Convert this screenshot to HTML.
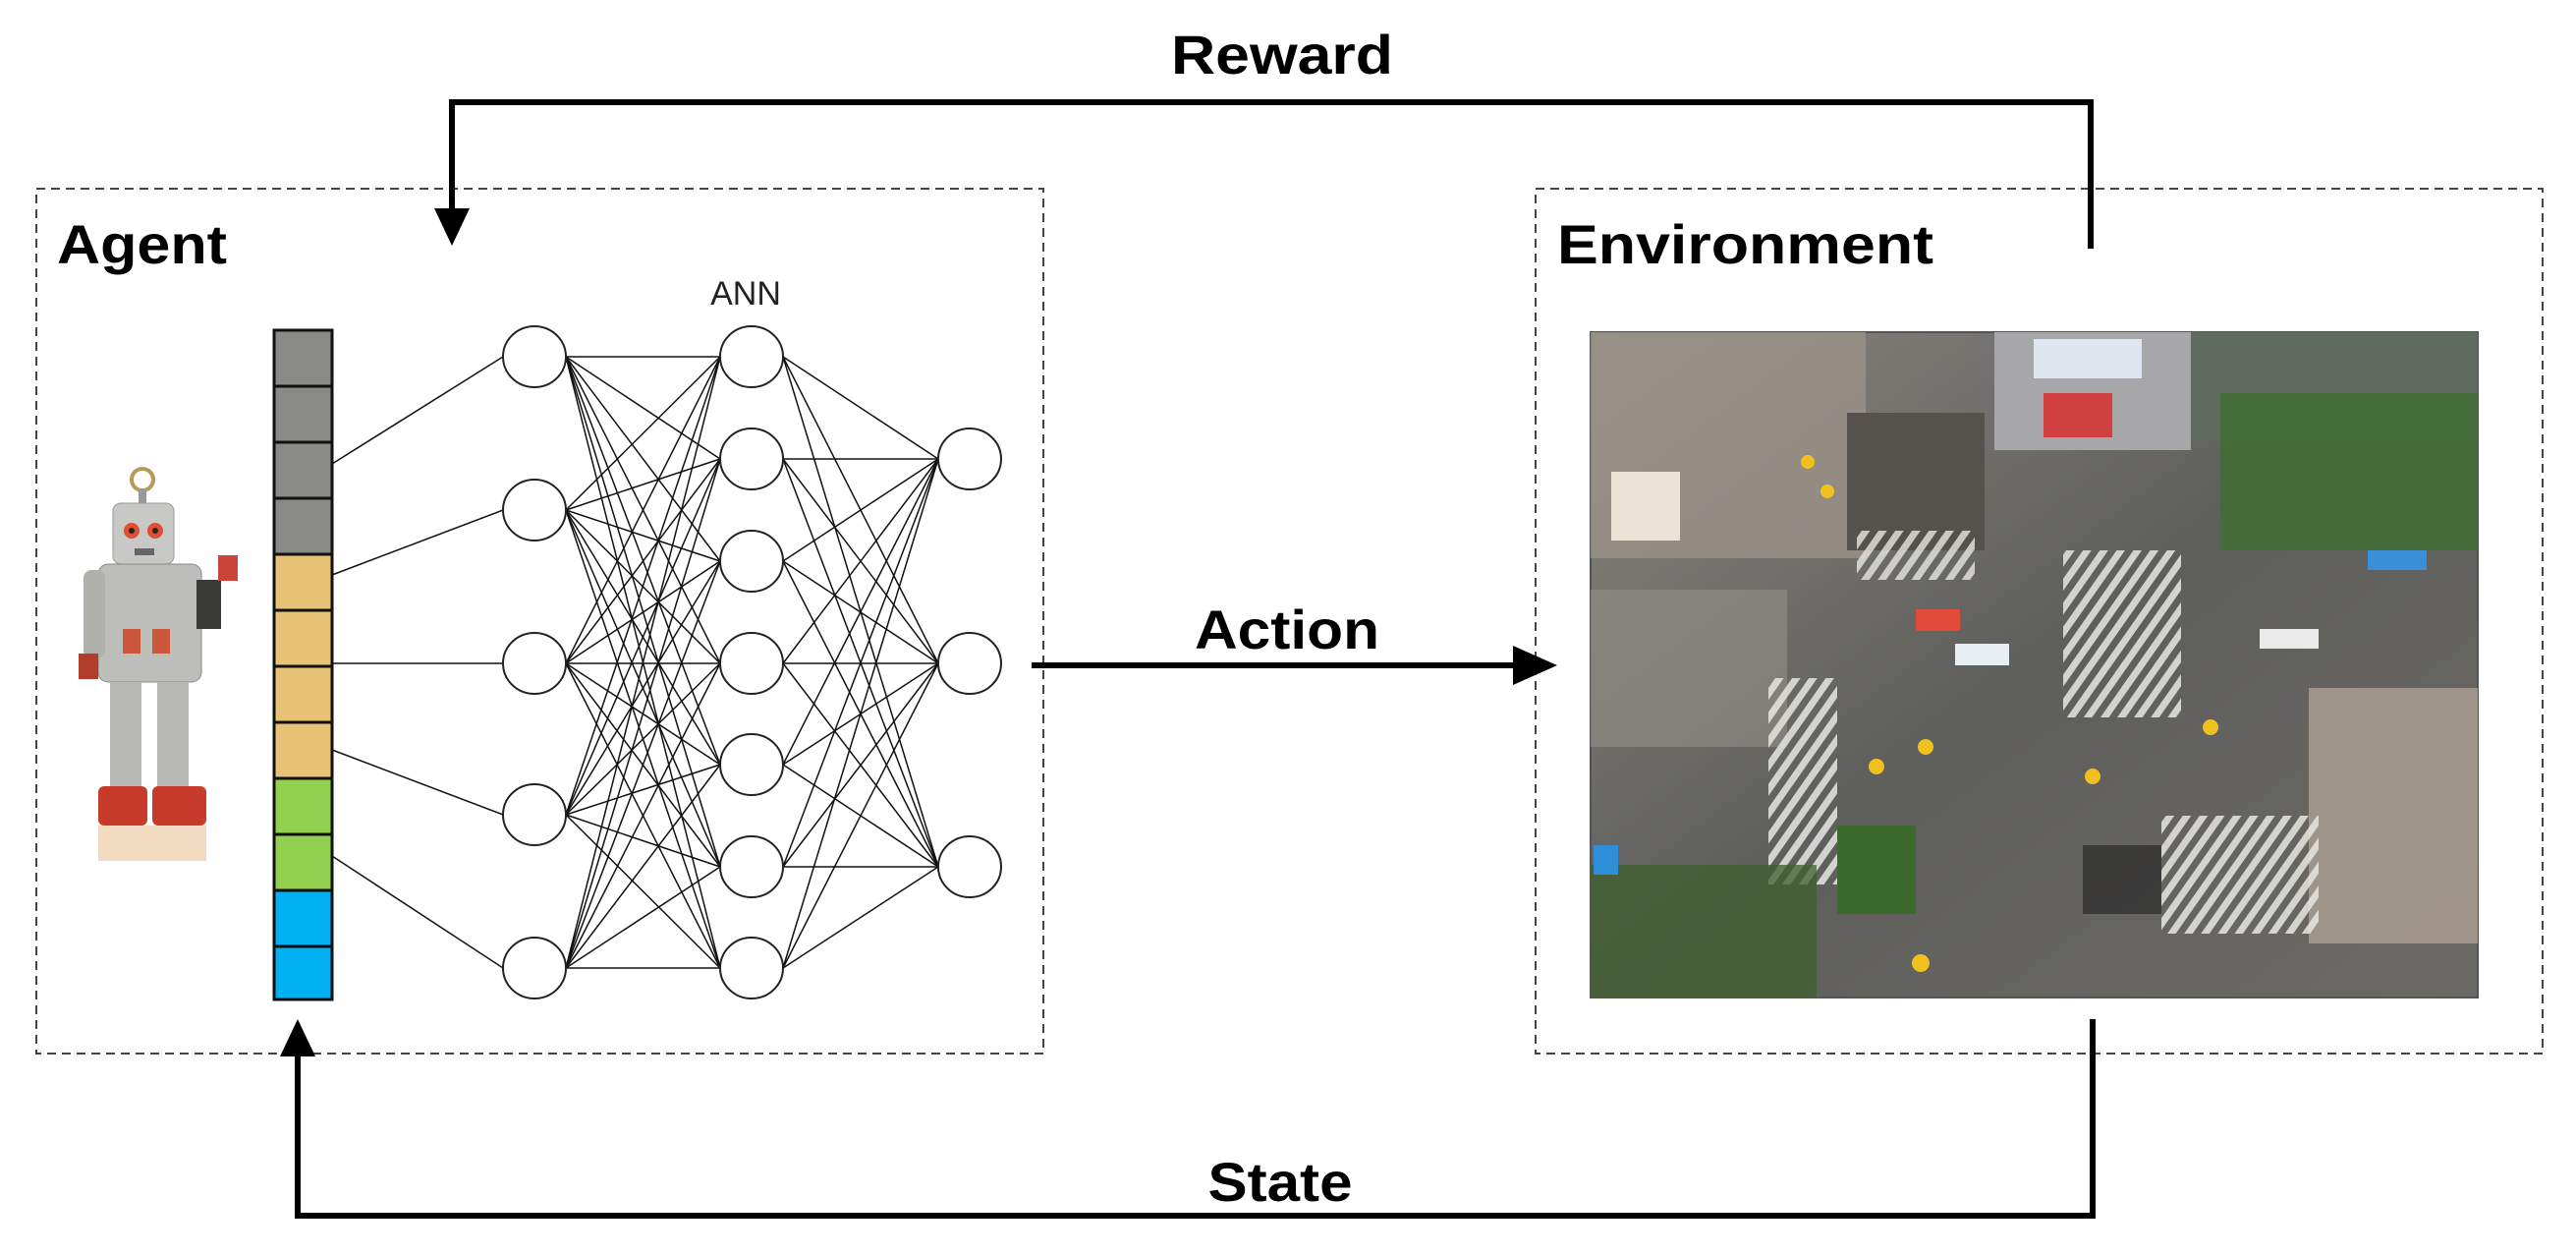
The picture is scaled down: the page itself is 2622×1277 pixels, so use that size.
<!DOCTYPE html>
<html><head><meta charset="utf-8"><style>html,body{margin:0;padding:0;background:#fff}svg{display:block}</style></head>
<body>
<svg xmlns="http://www.w3.org/2000/svg" width="2622" height="1277" viewBox="0 0 2622 1277">
<defs>
<linearGradient id="rd" x1="0" y1="0" x2="1" y2="1"><stop offset="0" stop-color="#8a8680"/><stop offset="0.5" stop-color="#5e5e5c"/><stop offset="1" stop-color="#6c6a66"/></linearGradient>
<pattern id="cw" width="14" height="14" patternUnits="userSpaceOnUse" patternTransform="rotate(35)"><rect width="7" height="14" fill="#e6e6e2"/></pattern>
</defs>
<g font-family="'Liberation Sans',sans-serif">
<!-- boxes -->
<rect x="37" y="192" width="1025" height="880" fill="none" stroke="#444" stroke-width="2" stroke-dasharray="9,6"/>
<rect x="1563" y="192" width="1025" height="880" fill="none" stroke="#444" stroke-width="2" stroke-dasharray="9,6"/>
<text x="58" y="268" font-size="56" font-weight="bold" textLength="173" lengthAdjust="spacingAndGlyphs">Agent</text>
<text x="1585" y="268" font-size="56" font-weight="bold" textLength="383" lengthAdjust="spacingAndGlyphs">Environment</text>
<text x="759" y="310" font-size="34" text-anchor="middle" fill="#222">ANN</text>
<!-- arrows -->
<g stroke="#000" stroke-width="6" fill="none">
<polyline points="2128,253 2128,104 460,104 460,215"/>
<polyline points="2130,1037 2130,1237 303,1237 303,1072"/>
<line x1="1050" y1="677" x2="1545" y2="677"/>
</g>
<polygon points="442,212 478,212 460,250" fill="#000"/>
<polygon points="285,1075 321,1075 303,1037" fill="#000"/>
<polygon points="1540,657 1540,697 1585,677" fill="#000"/>
<text x="1305" y="75" font-size="56" font-weight="bold" text-anchor="middle" textLength="226" lengthAdjust="spacingAndGlyphs">Reward</text>
<text x="1310" y="660" font-size="56" font-weight="bold" text-anchor="middle" textLength="188" lengthAdjust="spacingAndGlyphs">Action</text>
<text x="1303" y="1222" font-size="56" font-weight="bold" text-anchor="middle" textLength="147" lengthAdjust="spacingAndGlyphs">State</text>
<!-- bar -->
<g stroke="#111" stroke-width="3">
<rect x="279" y="336" width="59" height="57" fill="#898987"/>
<rect x="279" y="393" width="59" height="57" fill="#898987"/>
<rect x="279" y="450" width="59" height="57" fill="#898987"/>
<rect x="279" y="507" width="59" height="57" fill="#898987"/>
<rect x="279" y="564" width="59" height="57" fill="#e8c275"/>
<rect x="279" y="621" width="59" height="57" fill="#e8c275"/>
<rect x="279" y="678" width="59" height="57" fill="#e8c275"/>
<rect x="279" y="735" width="59" height="57" fill="#e8c275"/>
<rect x="279" y="792" width="59" height="57" fill="#92d050"/>
<rect x="279" y="849" width="59" height="57" fill="#92d050"/>
<rect x="279" y="906" width="59" height="57" fill="#00b0f0"/>
<rect x="279" y="963" width="59" height="54" fill="#00b0f0"/>
</g>
<!-- network lines -->
<g stroke="#111" stroke-width="1.5" id="net"></g>
<g id="nodes" fill="#fff" stroke="#222" stroke-width="2"></g>
<!-- robot -->
<g>
<circle cx="145" cy="488" r="11" fill="none" stroke="#b59a5a" stroke-width="4"/>
<rect x="141" y="498" width="8" height="18" fill="#999"/>
<rect x="115" y="512" width="62" height="62" rx="8" fill="#c8c8c6" stroke="#999"/>
<circle cx="134" cy="540" r="8" fill="#e05030"/><circle cx="158" cy="540" r="8" fill="#e05030"/>
<circle cx="134" cy="540" r="3" fill="#222"/><circle cx="158" cy="540" r="3" fill="#222"/>
<rect x="137" y="558" width="20" height="7" fill="#666"/>
<rect x="100" y="574" width="105" height="120" rx="10" fill="#bdbdba" stroke="#8a8a88"/>
<rect x="125" y="640" width="18" height="25" fill="#c9553a"/><rect x="155" y="640" width="18" height="25" fill="#c9553a"/>
<rect x="85" y="580" width="22" height="90" rx="8" fill="#b0b0ad"/>
<rect x="80" y="665" width="20" height="26" fill="#b13c2a"/>
<rect x="200" y="590" width="25" height="50" fill="#3a3a38"/>
<rect x="222" y="565" width="20" height="26" fill="#c9453a"/>
<rect x="112" y="694" width="32" height="110" fill="#b8b8b5"/><rect x="160" y="694" width="32" height="110" fill="#b8b8b5"/>
<rect x="100" y="800" width="50" height="40" rx="6" fill="#c83b2a"/><rect x="155" y="800" width="55" height="40" rx="6" fill="#c83b2a"/>
<rect x="100" y="840" width="110" height="36" fill="#e8c49a" opacity="0.6"/>
</g>
<!-- environment photo -->
<g>
<rect x="1619" y="338" width="903" height="677" fill="url(#rd)" stroke="#555" stroke-width="2"/>
<rect x="1619" y="338" width="280" height="230" fill="#9a9288" opacity="0.8"/>
<rect x="2030" y="338" width="200" height="120" fill="#a7a6a8"/>
<rect x="2070" y="345" width="110" height="40" fill="#dfe6ef"/>
<rect x="2080" y="400" width="70" height="45" fill="#d04040"/>
<rect x="2230" y="338" width="292" height="110" fill="#5f6a60"/>
<rect x="2260" y="400" width="262" height="160" fill="#3f6d33" opacity="0.85"/>
<rect x="1640" y="480" width="70" height="70" fill="#e9e4d6"/>
<rect x="2350" y="700" width="172" height="260" fill="#a99c90" opacity="0.85"/>
<rect x="1619" y="600" width="200" height="160" fill="#8f8a84" opacity="0.7"/>
<rect x="1880" y="420" width="140" height="140" fill="#55524e"/>
<rect x="1800" y="690" width="70" height="210" fill="url(#cw)" opacity="0.85"/>
<rect x="2100" y="560" width="120" height="170" fill="url(#cw)" opacity="0.85"/>
<rect x="2200" y="830" width="160" height="120" fill="url(#cw)" opacity="0.85"/>
<rect x="1890" y="540" width="120" height="50" fill="url(#cw)" opacity="0.8"/>
<rect x="1619" y="880" width="230" height="135" fill="#3f5f2e" opacity="0.75"/>
<rect x="1870" y="840" width="80" height="90" fill="#3b6a2c"/>
<rect x="2120" y="860" width="80" height="70" fill="#2a2a2a" opacity="0.7"/>
<rect x="1950" y="620" width="45" height="22" fill="#e24a3c"/><rect x="1990" y="655" width="55" height="22" fill="#e8eef2"/>
<rect x="2300" y="640" width="60" height="20" fill="#eaeaea"/><rect x="2410" y="560" width="60" height="20" fill="#3a8fd8"/>
<rect x="1622" y="860" width="25" height="30" fill="#2f8ed8"/>
<circle cx="1960" cy="760" r="8" fill="#f0c020"/><circle cx="2130" cy="790" r="8" fill="#f0c020"/><circle cx="1910" cy="780" r="8" fill="#f0c020"/><circle cx="2250" cy="740" r="8" fill="#f0c020"/><circle cx="1840" cy="470" r="7" fill="#f0c020"/><circle cx="1860" cy="500" r="7" fill="#f0c020"/><circle cx="1955" cy="980" r="9" fill="#f0c020"/>
</g>
</g>
<script>
(function(){
var ns="http://www.w3.org/2000/svg";
var net=document.getElementById("net"),nodes=document.getElementById("nodes");
var L1=[363,519,675,829,985],L2=[363,467,571,675,778,882,985],L3=[467,675,882];
var x1=544,x2=765,x3=987,r=32;
function ln(a,b,c,d){var e=document.createElementNS(ns,"line");e.setAttribute("x1",a);e.setAttribute("y1",b);e.setAttribute("x2",c);e.setAttribute("y2",d);net.appendChild(e);}
var bs=[472,585,675,763,871];
for(var i=0;i<5;i++)ln(338,bs[i],x1-r,L1[i]);
L1.forEach(function(a){L2.forEach(function(b){ln(x1+r,a,x2-r,b);});});
L2.forEach(function(a){L3.forEach(function(b){ln(x2+r,a,x3-r,b);});});
function c(x,y){var e=document.createElementNS(ns,"ellipse");e.setAttribute("cx",x);e.setAttribute("cy",y);e.setAttribute("rx",r);e.setAttribute("ry",31);nodes.appendChild(e);}
L1.forEach(function(y){c(x1,y)});L2.forEach(function(y){c(x2,y)});L3.forEach(function(y){c(x3,y)});
})();
</script>
</svg>
</body></html>
